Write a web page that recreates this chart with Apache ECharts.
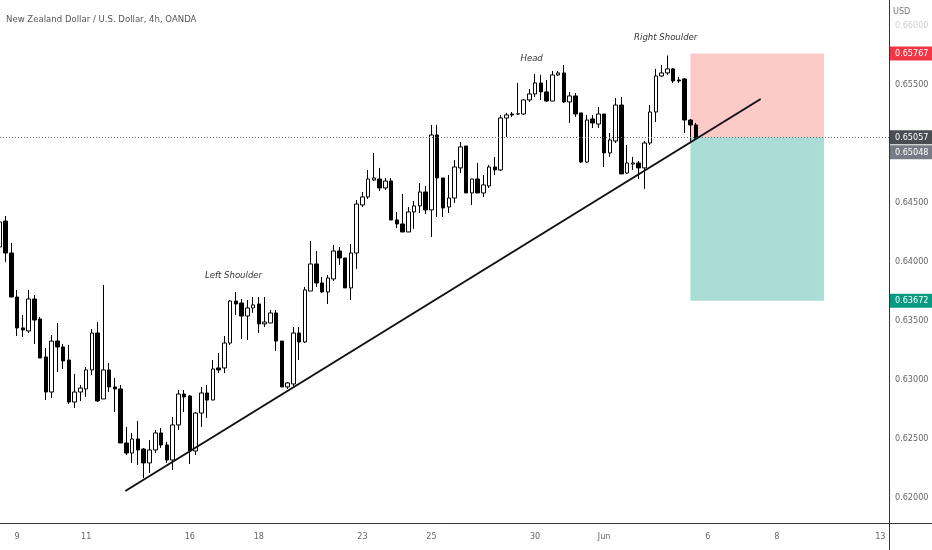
<!DOCTYPE html>
<html><head><meta charset="utf-8">
<script src="https://cdn.jsdelivr.net/npm/echarts@6/dist/echarts.min.js"></script>
<style>html,body{margin:0;padding:0;background:#fff}#c{width:932px;height:550px}</style>
</head><body><div id="c"></div>
<script>
// ---- data (NZD/USD 4h, OANDA) ----
const openP = [
0.64127,0.64347,0.64076,0.63703,0.63441,0.63415,0.63686,0.63517,0.63195,0.62898,
0.63330,0.63280,0.63169,0.62813,0.62898,0.62924,0.63085,0.63398,0.62839,0.63085,
0.62941,0.62924,0.62466,0.62381,0.62500,0.62415,0.62297,0.62407,0.62551,0.62449,
0.62322,0.62619,0.62881,0.62864,0.62398,0.62720,0.62890,0.62830,0.63102,0.63102,
0.63313,0.63669,0.63652,0.63542,0.63610,0.63644,0.63475,0.63483,0.63568,0.63330,
0.62941,0.62966,0.63398,0.63322,0.63754,0.63983,0.63822,0.63746,0.63856,0.64093,
0.64034,0.63780,0.64076,0.64483,0.64551,0.64695,0.64703,0.64627,0.64686,0.64356,
0.64322,0.64254,0.64424,0.64475,0.64593,0.64441,0.65076,0.64712,0.64466,0.64542,
0.64797,0.64983,0.64585,0.64703,0.64585,0.64644,0.64805,0.64780,0.65220,0.65254,
0.65254,0.65254,0.65373,0.65424,0.65517,0.65441,0.65364,0.65585,0.65602,0.65356,
0.65407,0.65263,0.64847,0.65212,0.65169,0.65254,0.64924,0.65025,0.65330,0.64754,
0.64830,0.64839,0.64797,0.65008,0.65271,0.65576,0.65602,0.65636,0.65542,0.65551,
0.65203,0.65161];
const closeP = [
0.64339,0.64076,0.63703,0.63441,0.63424,0.63686,0.63508,0.63186,0.62898,0.63330,
0.63280,0.63161,0.62813,0.62898,0.62932,0.63085,0.63398,0.62822,0.63085,0.62941,
0.62924,0.62466,0.62381,0.62500,0.62407,0.62297,0.62407,0.62551,0.62449,0.62322,
0.62619,0.62881,0.62856,0.62398,0.62720,0.62890,0.62830,0.63093,0.63085,0.63313,
0.63669,0.63644,0.63542,0.63610,0.63636,0.63475,0.63491,0.63568,0.63330,0.62941,
0.62975,0.63398,0.63322,0.63763,0.63983,0.63822,0.63746,0.63864,0.64093,0.64034,
0.63780,0.64076,0.64491,0.64551,0.64703,0.64712,0.64627,0.64686,0.64356,0.64322,
0.64254,0.64424,0.64475,0.64593,0.64441,0.65076,0.64712,0.64458,0.64542,0.64805,
0.64975,0.64585,0.64703,0.64585,0.64653,0.64805,0.64780,0.65220,0.65246,0.65246,
0.65256,0.65373,0.65424,0.65517,0.65441,0.65364,0.65585,0.65602,0.65356,0.65407,
0.65254,0.64847,0.65203,0.65178,0.65254,0.64924,0.65034,0.65330,0.64746,0.64839,
0.64839,0.64797,0.65008,0.65271,0.65576,0.65602,0.65636,0.65534,0.65534,0.65203,
0.65161,0.65048];
const lowP = [
0.64059,0.64000,0.63703,0.63373,0.63364,0.63398,0.63305,0.63186,0.62830,0.62847,
0.63068,0.63093,0.62797,0.62763,0.62822,0.62856,0.63042,0.62813,0.62839,0.62898,
0.62729,0.62466,0.62364,0.62297,0.62280,0.62169,0.62212,0.62381,0.62424,0.62297,
0.62237,0.62576,0.62729,0.62288,0.62364,0.62602,0.62678,0.62830,0.63059,0.63059,
0.63297,0.63551,0.63347,0.63339,0.63568,0.63398,0.63449,0.63483,0.63246,0.62941,
0.62924,0.62949,0.63169,0.63313,0.63754,0.63788,0.63737,0.63644,0.63839,0.63975,
0.63780,0.63678,0.63941,0.64466,0.64534,0.64686,0.64602,0.64610,0.64356,0.64288,
0.64254,0.64254,0.64280,0.64415,0.64407,0.64212,0.64381,0.64381,0.64415,0.64500,
0.64754,0.64585,0.64483,0.64585,0.64551,0.64627,0.64737,0.64771,0.65059,0.65229,
0.65246,0.65246,0.65356,0.65398,0.65373,0.65356,0.65364,0.65576,0.65347,0.65178,
0.65229,0.64839,0.64839,0.65136,0.65136,0.64805,0.64890,0.65008,0.64746,0.64746,
0.64780,0.64703,0.64619,0.64992,0.65186,0.65568,0.65585,0.65517,0.65517,0.65093,
0.65017,0.65040];
const highP = [
0.64483,0.64390,0.64161,0.63763,0.63551,0.63763,0.63720,0.63534,0.63271,0.63381,
0.63483,0.63305,0.63297,0.63051,0.62958,0.63110,0.63432,0.63491,0.63805,0.63144,
0.63017,0.62958,0.62602,0.62551,0.62653,0.62424,0.62491,0.62576,0.62593,0.62475,
0.62686,0.62915,0.62915,0.62873,0.62729,0.62941,0.62958,0.63169,0.63229,0.63373,
0.63678,0.63746,0.63686,0.63678,0.63703,0.63703,0.63703,0.63593,0.63593,0.63330,
0.62983,0.63449,0.63449,0.63788,0.64178,0.64093,0.63873,0.63890,0.64144,0.64127,
0.64034,0.64152,0.64525,0.64593,0.64780,0.64924,0.64797,0.64712,0.64712,0.64424,
0.64576,0.64466,0.64517,0.64669,0.64644,0.65161,0.65161,0.64712,0.64737,0.64864,
0.65017,0.64983,0.64703,0.64839,0.64737,0.64822,0.64890,0.65246,0.65263,0.65271,
0.65517,0.65381,0.65466,0.65593,0.65585,0.65542,0.65619,0.65619,0.65669,0.65441,
0.65432,0.65263,0.65246,0.65246,0.65313,0.65254,0.65093,0.65390,0.65398,0.64992,
0.64890,0.64856,0.65025,0.65330,0.65636,0.65669,0.65750,0.65644,0.65568,0.65559,
0.65212,0.65178];

const totalSlots = 155;                       // bars incl. empty future space
const tickIndex = [3,15,33,45,63,75,93,105,123,135,153];
const tickText  = ['9','11','16','18','23','25','30','Jun','6','8','13'];
const yMin = 0.61788, yMax = 0.66220;

const entryPrice = 0.65057, lastPrice = 0.65048, stopPrice = 0.65767, targetPrice = 0.63672;
const trendX = [21.8, 132.2];
const trendY = [0.62059, 0.65381];
const boxX = [120.0, 143.2];
const noteText = ['Left Shoulder','Head','Right Shoulder'];
const noteX = [40.6, 92.4, 115.7];
const noteY = [0.63881, 0.65720, 0.65898];

// ---- font pick: prefer a narrow face if installed ----
function hasFont(f) {
  const ctx = document.createElement('canvas').getContext('2d');
  const s = 'New Zealand 0.65500';
  ctx.font = '40px monospace'; const a = ctx.measureText(s).width;
  ctx.font = "40px '" + f + "', monospace"; const b = ctx.measureText(s).width;
  return Math.abs(a - b) > 0.5;
}
const narrow = hasFont('Liberation Sans Narrow') ? 'Liberation Sans Narrow'
             : (hasFont('DejaVu Sans Condensed') ? 'DejaVu Sans Condensed' : null);
const isLib = narrow === 'Liberation Sans Narrow';
const FONT = narrow ? "'" + narrow + "', 'Liberation Sans', sans-serif" : "'Liberation Sans', sans-serif";
const fsMain = isLib ? 11 : 9.5;     // title / annotations
const fsAxis = isLib ? 10 : 9;       // axis and price labels

// ---- build ----
const cats = Array.from({length: totalSlots}, (_, i) => String(i));
const candles = openP.map((o, i) => [o, closeP[i], lowP[i], highP[i]]);

function priceLabel(bg, offY) {
  return {
    show: true, position: 'end', distance: 1,
    formatter: p => p.value.toFixed(5),
    backgroundColor: bg, color: '#fff', fontFamily: FONT, fontSize: fsAxis,
    padding: [3, 4, 2, 5], offset: [0, offY || 0]
  };
}

const chart = echarts.init(document.getElementById('c'), null, {renderer: 'canvas'});
chart.setOption({
  animation: false,
  backgroundColor: '#ffffff',
  title: {
    text: 'New Zealand Dollar / U.S. Dollar, 4h, OANDA',
    left: 1, top: 10,
    textStyle: {fontFamily: FONT, fontSize: fsMain, fontWeight: 'normal', color: '#555'}
  },
  grid: {left: -3, right: 43, top: 0, bottom: 27, containLabel: false, outerBoundsMode: 'none'},
  xAxis: [{
    type: 'category', data: cats, boundaryGap: true,
    axisLine: {show: true, onZero: false, lineStyle: {color: '#333', width: 1}},
    axisTick: {show: false},
    splitLine: {show: false},
    axisLabel: {
      interval: (idx) => tickIndex.indexOf(idx) >= 0,
      formatter: (v, idx) => { const k = tickIndex.indexOf(Number(v)); return k >= 0 ? tickText[k] : ''; },
      color: '#666', fontFamily: FONT, fontSize: fsAxis, margin: 9
    }
  }, {
    type: 'value', min: -0.5, max: totalSlots - 0.5, show: false
  }],
  yAxis: {
    type: 'value', position: 'right', min: yMin, max: yMax,
    minInterval: 0.005, maxInterval: 0.005, scale: true,
    axisLine: {show: true, onZero: false, lineStyle: {color: '#333', width: 1}},
    axisTick: {show: false},
    splitLine: {show: false},
    axisLabel: {
      showMinLabel: false, showMaxLabel: false, margin: 6,
      color: '#666', fontFamily: FONT, fontSize: fsAxis,
      formatter: v => {
        if (Math.abs(v - 0.65) < 1e-7) return '';
        if (Math.abs(v - 0.66) < 1e-7) return '{f|' + v.toFixed(5) + '}';
        return v.toFixed(5);
      },
      rich: {f: {color: '#d0d0d0', fontFamily: FONT, fontSize: fsAxis}}
    }
  },
  graphic: [
    {type: 'text', left: 893, top: 7, style: {text: 'USD', fill: '#777', font: fsAxis + 'px ' + FONT}},
    {type: 'line', shape: {x1: 889.5, y1: 523, x2: 889.5, y2: 550}, style: {stroke: '#333', lineWidth: 1}},
    {type: 'line', shape: {x1: 889, y1: 523.5, x2: 932, y2: 523.5}, style: {stroke: '#333', lineWidth: 1}}
  ],
  series: [
    {
      name: 'zones', type: 'line', xAxisIndex: 1, data: [], z: 1,
      markArea: {
        silent: true,
        data: [
          [{coord: [boxX[0], entryPrice], itemStyle: {color: 'rgba(246,90,80,0.32)'}}, {coord: [boxX[1], stopPrice]}],
          [{coord: [boxX[0], targetPrice], itemStyle: {color: 'rgba(20,160,138,0.36)'}}, {coord: [boxX[1], entryPrice]}]
        ]
      },
      markLine: {
        silent: true, symbol: ['none', 'none'], precision: 5,
        data: [
          {yAxis: entryPrice, lineStyle: {color: '#666', type: [1, 2], width: 1}, label: priceLabel('#4b4d55')},
          {yAxis: lastPrice, lineStyle: {color: 'rgba(0,0,0,0)', width: 0}, label: priceLabel('#787b86', 14)},
          {yAxis: stopPrice, lineStyle: {color: 'rgba(0,0,0,0)', width: 0}, label: priceLabel('#f23645')},
          {yAxis: targetPrice, lineStyle: {color: 'rgba(0,0,0,0)', width: 0}, label: priceLabel('#089981')}
        ]
      }
    },
    {
      name: 'NZDUSD', type: 'candlestick', xAxisIndex: 0, data: candles, z: 3,
      barWidth: 4,
      itemStyle: {color: '#ffffff', color0: '#000000', borderColor: '#000000', borderColor0: '#000000', borderWidth: 1}
    },
    {
      name: 'trend', type: 'line', xAxisIndex: 1, z: 5,
      data: [[trendX[0], trendY[0]], [trendX[1], trendY[1]]],
      symbol: 'none', lineStyle: {color: '#111', width: 2},
      markPoint: {
        silent: true, symbol: 'circle', symbolSize: 0,
        data: noteText.map((t, k) => ({name: t, coord: [noteX[k], noteY[k]]})),
        label: {show: true, position: 'inside', formatter: '{b}', color: '#333',
                fontStyle: 'italic', fontFamily: FONT, fontSize: fsMain}
      }
    }
  ]
});
</script>
</body></html>
